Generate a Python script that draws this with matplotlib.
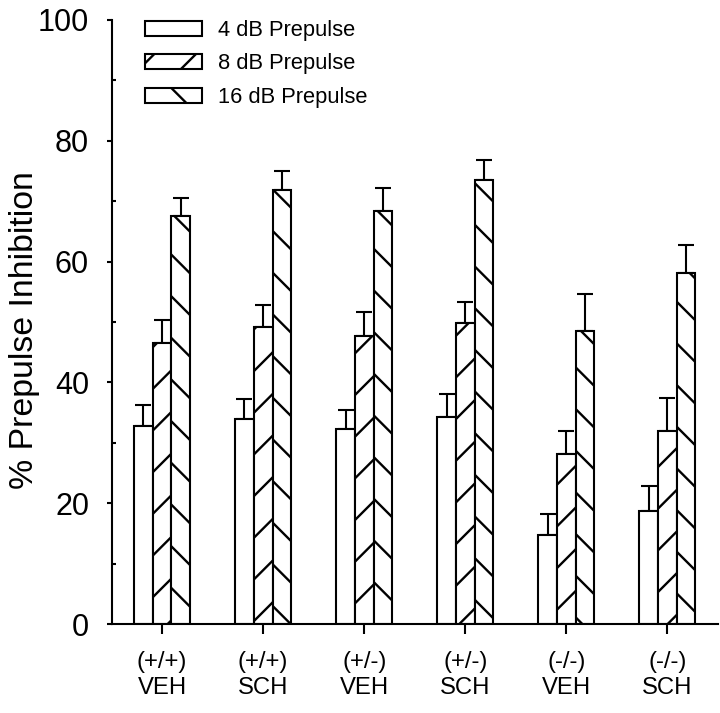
import matplotlib
matplotlib.use("Agg")
import matplotlib.pyplot as plt
import numpy as np
from matplotlib.ticker import MultipleLocator

# data
groups = ["(+/+)\nVEH", "(+/+)\nSCH", "(+/-)\nVEH", "(+/-)\nSCH", "(-/-)\nVEH", "(-/-)\nSCH"]
labels = ["4 dB Prepulse", "8 dB Prepulse", "16 dB Prepulse"]
ppi_4db = [32.8, 33.9, 32.3, 34.3, 14.7, 18.7]
ppi_8db = [46.5, 49.2, 47.7, 49.8, 28.1, 32.0]
ppi_16db = [67.5, 71.9, 68.4, 73.5, 48.5, 58.1]
sem_4db = [3.4, 3.4, 3.2, 3.8, 3.5, 4.1]
sem_8db = [3.8, 3.6, 4.0, 3.5, 3.9, 5.4]
sem_16db = [3.0, 3.1, 3.8, 3.3, 6.1, 4.6]

DPI = 250
s = 200 / DPI  # point sizes were tuned at dpi 200

plt.rcParams['font.family'] = ['Liberation Sans', 'DejaVu Sans']
plt.rcParams['hatch.linewidth'] = 0.85 * s
plt.rcParams['hatch.color'] = 'black'

# high dpi so the hatch density gives the wide spacing of the original
fig = plt.figure(figsize=(720 / DPI, 713 / DPI), dpi=DPI)
ax = fig.add_axes([0.155, 0.1248, 0.842, 0.8472])

x = np.arange(len(groups))
w = 0.185
series = [(ppi_4db, sem_4db, ''), (ppi_8db, sem_8db, '//'), (ppi_16db, sem_16db, '\\\\')]
for i, (vals, errs, hatch) in enumerate(series):
    pos = x + (i - 1) * w
    ax.bar(pos, vals, w, color='white', edgecolor='black', linewidth=0.75 * s,
           hatch=hatch, label=labels[i], zorder=2)
    ax.errorbar(pos, vals, yerr=[np.zeros(len(errs)), errs], fmt='none',
                ecolor='black', elinewidth=0.75 * s, capsize=2.9 * s,
                capthick=0.75 * s, zorder=1)

ax.set_xlim(-0.5, 5.5)
ax.set_ylim(0, 100)
ax.set_xticks(x)
ax.set_xticklabels(groups, fontsize=8.6 * s, linespacing=1.25)
ax.yaxis.set_major_locator(MultipleLocator(20))
ax.yaxis.set_minor_locator(MultipleLocator(10))
ax.tick_params(axis='y', which='major', direction='out', length=1.8 * s, width=0.75 * s,
               labelsize=11 * s, pad=6.3 * s)
ax.tick_params(axis='y', which='minor', direction='in', length=1.3 * s, width=0.75 * s)
ax.tick_params(axis='x', which='major', direction='out', length=3.6 * s, width=0.75 * s,
               pad=6.0 * s)

for side in ['top', 'right']:
    ax.spines[side].set_visible(False)
for side in ['left', 'bottom']:
    ax.spines[side].set_linewidth(0.75 * s)

ax.set_ylabel("% Prepulse Inhibition", fontsize=12.2 * s)
ax.yaxis.set_label_coords(-0.118, 0.487)

ax.legend(loc='upper left', bbox_to_anchor=(0.201, 0.972), bbox_transform=fig.transFigure,
          frameon=False, fontsize=7.9 * s, handlelength=2.6, handleheight=0.7,
          handletextpad=0.75, labelspacing=0.57, borderpad=0, borderaxespad=0)

fig.savefig("out.png", dpi=DPI)
